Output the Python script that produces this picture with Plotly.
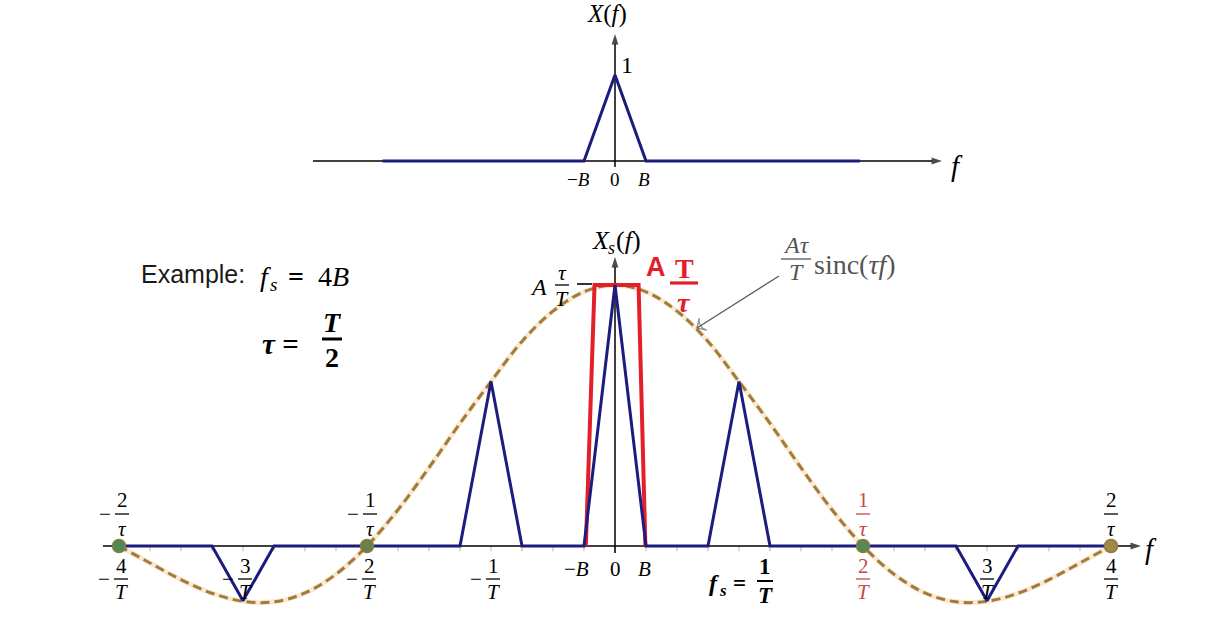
import plotly.graph_objects as go

# ---------------- data (frequency in units of 1/T, fs = 1/T = 4B) ----------------
B = 0.25
# bottom spectrum: replica centres (k/T) and their heights
replica_centers = [-3, -1, 0, 1, 3]
replica_heights = [-0.21, 0.63, 1.0, 0.63, -0.21]
# sinc envelope samples (every B)
env_f = [-4, -3.75, -3.5, -3.25, -3, -2.75, -2.5, -2.25, -2, -1.75, -1.5, -1.25, -1, -0.75, -0.5, -0.25,
         0, 0.25, 0.5, 0.75, 1, 1.25, 1.5, 1.75, 2, 2.25, 2.5, 2.75, 3, 3.25, 3.5, 3.75, 4]
env_v = [0, -0.065, -0.129, -0.181, -0.212, -0.214, -0.180, -0.108, 0, 0.139, 0.300, 0.470, 0.630, 0.784,
         0.900, 0.974, 1.0, 0.974, 0.900, 0.784, 0.630, 0.470, 0.300, 0.139, 0, -0.108, -0.180, -0.214,
         -0.212, -0.181, -0.129, -0.065, 0]
# red pulse outline
red_x = [-0.235, -0.165, 0.19, 0.245]
red_y = [0, 1.0, 1.0, 0]
# zero-crossing dots
dot_f = [-4, -2, 2, 4]
dot_colors = ["#4c8a5a", "#6a804c", "#548a55", "#a08a4a"]
# top spectrum X(f)
top_x = [-1.875, -0.25, 0, 0.25, 1.975]
top_y = [0, 0, 1, 0, 0]
# tick labels
tau_ticks = [-4, -2, 2, 4]
tau_nums = ["2", "1", "1", "2"]
T_ticks = [-4, -3, -2, -1, 2, 3, 4]
T_nums = ["4", "3", "2", "1", "2", "3", "4"]
minor_ticks = [k * B for k in range(-16, 17)]

# ---------------- layout helpers ----------------
W, H = 1205, 625
PX = 124.0          # pixels per 1/T
X0 = 615.0          # pixel of f = 0
SERIF = "Liberation Serif"
SANS = "Liberation Sans"
NAVY = "#1c1c7e"
RED = "#e3202a"
DRED = "#c8484a"
ENV = "#a27a3c"
GREY = "#555555"


def X(p):
    return (p - X0) / PX


def Yb(p):   # bottom-plot data value for a pixel row
    return (546 - p) / 261


def Yt(p):   # top-plot data value for a pixel row
    return (161 - p) / 86


def dxp(p):
    return p / PX


def py(p):
    return 1 - p / H


ann = []
shapes = []


def text(x, ypix, s, size=19, color="black", family=SERIF, xanchor="center"):
    ann.append(dict(x=x, y=py(ypix), xref="x", yref="paper", text=s, showarrow=False,
                    font=dict(family=family, size=size, color=color),
                    xanchor=xanchor, yanchor="middle"))


def hbar(xc, half, ypix, color="black", width=1.3):
    shapes.append(dict(type="line", xref="x", yref="paper", x0=xc - dxp(half), x1=xc + dxp(half),
                       y0=py(ypix), y1=py(ypix), line=dict(color=color, width=width)))


def frac(xc, yn, yb, yd, num, den, color="black", size=21, half=7, bw=1.3, neg=False, mo=17):
    text(xc, yn, num, size, color)
    hbar(xc, half, yb, color, bw)
    text(xc, yd, den, size, color)
    if neg:
        text(xc - dxp(mo), yb, "\u2212", size, color)


fig = go.Figure()


def arrow_line(x0, y0, x1, y1, yaxis="y", color="black", width=1.5, symbol="arrow", size=11):
    fig.add_trace(go.Scatter(x=[x0, x1], y=[y0, y1], mode="lines+markers", yaxis=yaxis,
                             line=dict(color=color, width=width),
                             marker=dict(symbol=symbol, angleref="previous", size=[0, size], color=color,
                                         line=dict(color=color, width=width if "open" in symbol else 0)),
                             hoverinfo="skip"))


# ---------------- bottom plot ----------------
fig.add_trace(go.Scatter(x=env_f, y=env_v, mode="lines", line=dict(color="#f8e9cf", width=5, shape="spline"),
                         hoverinfo="skip"))
fig.add_trace(go.Scatter(x=env_f, y=env_v, mode="lines",
                         line=dict(color=ENV, width=3, dash="9px,5px", shape="spline"), hoverinfo="skip"))
# minor ticks below the axis
tx, ty = [], []
for t in minor_ticks:
    tx += [t, t, None]
    ty += [0, -0.02, None]
fig.add_trace(go.Scatter(x=tx, y=ty, mode="lines", line=dict(color="#cdbfa6", width=1.2), hoverinfo="skip"))

# axes (bottom)
arrow_line(X(103), 0, X(1141), 0)
arrow_line(0, Yb(553), 0, Yb(257))

# red pulse
fig.add_trace(go.Scatter(x=red_x, y=red_y, mode="lines", line=dict(color=RED, width=4), hoverinfo="skip"))

# blue sampled spectrum (baseline + triangles)
bx, by = [-4], [0]
for c, h in zip(replica_centers, replica_heights):
    bx += [c - B, c, c + B]
    by += [0, h, 0]
bx.append(4)
by.append(0)
fig.add_trace(go.Scatter(x=bx, y=by, mode="lines", line=dict(color=NAVY, width=3), hoverinfo="skip"))

# dots
fig.add_trace(go.Scatter(x=dot_f, y=[0] * len(dot_f), mode="markers",
                         marker=dict(size=13, color=dot_colors, line=dict(color="#8c7a40", width=1.5)),
                         hoverinfo="skip"))

# pointer arrow to the envelope
arrow_line(X(779), Yb(276), X(697), Yb(328), color=GREY, width=1.2, symbol="arrow-wide-open", size=10)

# ---------------- top plot ----------------
arrow_line(X(313), 0, X(942), 0, yaxis="y2")
arrow_line(0, Yt(167), 0, Yt(34), yaxis="y2")
fig.add_trace(go.Scatter(x=top_x, y=top_y, mode="lines", line=dict(color=NAVY, width=3), yaxis="y2",
                         hoverinfo="skip"))

# ---------------- tick labels (bottom) ----------------
for t, n in zip(tau_ticks, tau_nums):
    col = DRED if t == 2 else "black"
    off = dxp(3) if t < 0 else 0
    frac(t + off, 500, 514, 529, n, "<i>τ</i>", color=col, neg=(t < 0))
for t, n in zip(T_ticks, T_nums):
    col = DRED if t == 2 else "black"
    off = dxp(2) if t < 0 else 0
    frac(t + off, 566, 579, 592, n, "<i>T</i>", color=col, neg=(t < 0))

text(-B - dxp(8), 569, "\u2212<i>B</i>", 21)
text(0, 569, "0", 21)
text(B - dxp(2), 569, "<i>B</i>", 21)
# fs = 1/T  (subscript drawn as its own smaller text)
text(X(707), 583, "<b><i>f</i></b>", 24, xanchor="left")
text(X(717), 590, "<b><i>s</i></b>", 17, xanchor="left")
text(X(731), 583, "<b>=</b>", 23, xanchor="left")
frac(X(765), 566, 581, 595, "<b>1</b>", "<b><i>T</i></b>", size=23, half=8, bw=2)
text(X(1151), 549, "<i>f</i>", 29)

# y-axis label X_s(f) and A tau/T
text(X(590), 240, "<i>X</i>", 26, xanchor="left")
text(X(606), 248, "<i>s</i>", 18, xanchor="left")
text(X(614), 240, "(<i>f</i>)", 26, xanchor="left")
text(X(538), 287, "<i>A</i>", 24)
frac(X(562), 272, 285, 298, "<i>τ</i>", "<i>T</i>", size=22, half=7, bw=1.3)
shapes.append(dict(type="line", xref="x", yref="paper", x0=X(577), x1=X(592), y0=py(284), y1=py(284),
                   line=dict(color="black", width=1.6)))

# red handwritten A T/tau
text(X(656), 267, "<b>A</b>", 27, color=RED, family=SANS)
frac(X(684), 268, 283, 302, "<b>T</b>", "<b><i>τ</i></b>", color=RED, size=28, half=14, bw=3.2)

# grey annotation
frac(X(796), 245, 259, 272, "<i>Aτ</i>", "<i>T</i>", color=GREY, size=24, half=15, bw=1.3)
text(X(812), 265, "sinc(<i>τf</i>)", 28, color=GREY, xanchor="left")

# example text
text(X(139), 274, "Example:", 25, color="#1a1a1a", family=SANS, xanchor="left")
text(X(258), 276, "<i>f</i>", 28, xanchor="left")
text(X(268), 284, "<i>s</i>", 19, xanchor="left")
text(X(286), 276, "<b>=</b>  4<i>B</i>", 28, xanchor="left")
text(X(260), 344, "<b><i>τ</i> =</b>", 29, xanchor="left")
frac(X(332), 322, 339, 357, "<b><i>T</i></b>", "<b>2</b>", size=28, half=10, bw=3)

# ---------------- top labels ----------------
text(X(607), 14, "<i>X</i>(<i>f</i>)", 25)
text(X(627), 65, "1", 24)
text(-B - dxp(6), 179, "\u2212<i>B</i>", 19)
text(0, 179, "0", 19)
text(B - dxp(2), 179, "<i>B</i>", 19)
text(X(957), 166, "<i>f</i>", 29)

fig.update_layout(
    width=W, height=H, margin=dict(l=0, r=0, t=0, b=0),
    paper_bgcolor="white", plot_bgcolor="white", showlegend=False,
    xaxis=dict(range=[X(0), X(W)], visible=False, fixedrange=True),
    yaxis=dict(range=[Yb(625), Yb(0)], visible=False, fixedrange=True, domain=[0, 1]),
    yaxis2=dict(range=[Yt(625), Yt(0)], visible=False, fixedrange=True, overlaying="y"),
    annotations=ann, shapes=shapes,
)

fig.write_html("out.html", config={"displayModeBar": False},
               post_script="document.body.style.margin='0px';")
